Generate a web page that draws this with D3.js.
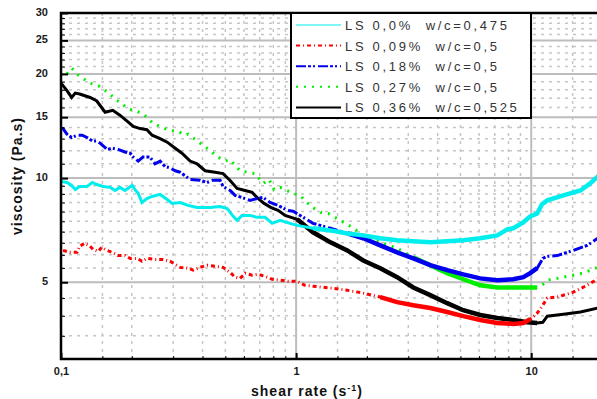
<!DOCTYPE html>
<html>
<head>
<meta charset="utf-8">
<script src="https://cdn.jsdelivr.net/npm/d3@7/dist/d3.min.js"></script>
<style>
    body { margin: 0; background: #fff; }
    svg { display: block; font-family: "Liberation Sans", Arial, sans-serif; }
</style>
</head>
<body>
<script>
// [shear rate (1/s), viscosity (Pa.s)]
const ls000 = [[0.1,9.78],[0.106,9.71],[0.111,9.52],[0.115,9.27],[0.12,9.46],[0.129,9.46],[0.136,9.71],[0.142,9.58],
    [0.151,9.46],[0.162,9.4],[0.17,9.21],[0.178,9.4],[0.187,9.21],[0.201,9.52],[0.206,9.27],[0.213,9.03],[0.221,8.5],
    [0.232,8.73],[0.244,8.85],[0.264,8.97],[0.283,8.67],[0.297,8.45],[0.321,8.5],[0.347,8.34],[0.379,8.22],[0.431,8.22],
    [0.475,8.28],[0.509,8.17],[0.54,7.75],[0.561,7.55],[0.589,7.8],[0.637,7.8],[0.682,7.7],[0.738,7.7],[0.791,7.4],
    [0.855,7.55],[0.942,7.4],[1.01,7.3],[1.18,7.16],[1.4,7.06],[1.65,6.92],[1.93,6.83],[2.28,6.7],[2.69,6.61],[3.15,6.57],
    [3.72,6.52],[4.39,6.57],[5.14,6.61],[6.07,6.7],[7.17,6.83],[7.91,7.11],[8.38,7.16],[9.25,7.45],[9.9,7.75],[10.6,7.9],
    [11.1,8.39],[11.7,8.62],[13.7,8.91],[16.2,9.21],[17.8,9.65],[19.5,10.2]];
const ls009 = [[0.102,6.18],[0.109,6.1],[0.117,6.1],[0.12,6.35],[0.126,6.48],[0.133,6.35],[0.137,6.22],[0.144,6.14],
    [0.149,6.31],[0.157,6.18],[0.165,6.1],[0.175,5.97],[0.187,5.97],[0.197,5.86],[0.211,5.86],[0.221,5.75],[0.232,5.86],
    [0.251,5.82],[0.272,5.82],[0.291,5.75],[0.321,5.52],[0.347,5.49],[0.365,5.42],[0.39,5.52],[0.418,5.6],[0.452,5.56],
    [0.489,5.52],[0.524,5.34],[0.55,5.17],[0.578,5.13],[0.607,5.31],[0.65,5.24],[0.689,5.27],[0.738,5.2],[0.791,5.1],
    [0.855,5.07],[0.925,5.03],[1.01,5.03],[1.09,4.9],[1.18,4.87],[1.4,4.81],[1.65,4.74],[1.93,4.65],[2.28,4.53],[2.69,4.38],
    [3.15,4.29],[3.72,4.21],[4.39,4.1],[5.14,3.99],[6.07,3.89],[7.17,3.81],[8.38,3.79],[9.25,3.81],[9.9,3.91],[10.6,4.07],
    [11.2,4.29],[11.7,4.5],[12.9,4.53],[15.1,4.68],[17.3,4.9],[19.5,5.15]];
const ls018 = [[0.1,13.9],[0.102,13.9],[0.106,13.4],[0.111,13.1],[0.117,13.3],[0.123,13.3],[0.129,13.1],[0.136,12.8],
    [0.142,12.8],[0.147,12.6],[0.157,12.1],[0.166,12.2],[0.175,12.1],[0.187,11.9],[0.197,11.8],[0.203,11.5],[0.213,11.2],
    [0.223,11.5],[0.239,11.5],[0.251,11.0],[0.264,11.2],[0.277,10.8],[0.291,10.7],[0.306,10.5],[0.321,10.4],[0.354,9.91],
    [0.39,9.86],[0.418,9.71],[0.443,9.86],[0.475,9.86],[0.489,9.46],[0.524,9.21],[0.55,8.91],[0.589,8.79],[0.637,8.62],
    [0.682,8.73],[0.724,8.79],[0.775,8.5],[0.838,8.34],[0.916,8.07],[0.971,8.02],[1.04,7.8],[1.18,7.4],[1.4,7.16],
    [1.65,6.92],[1.93,6.7],[2.28,6.39],[2.69,6.1],[3.15,5.86],[3.72,5.6],[4.39,5.42],[5.14,5.27],[6.07,5.13],[7.17,5.07],
    [8.38,5.1],[9.25,5.17],[9.9,5.31],[10.6,5.49],[11.2,5.86],[11.7,5.94],[12.9,5.97],[15.1,6.18],[17.3,6.39],[19.5,6.75]];
const ls027 = [[0.106,20.0],[0.111,20.8],[0.118,19.9],[0.123,19.5],[0.133,18.8],[0.144,18.5],[0.16,17.6],[0.17,16.9],
    [0.182,16.4],[0.191,15.9],[0.221,15.4],[0.234,14.9],[0.246,14.4],[0.291,13.7],[0.312,13.7],[0.337,13.3],[0.347,13.4],
    [0.398,12.5],[0.418,12.2],[0.466,11.5],[0.499,11.2],[0.524,11.3],[0.578,10.5],[0.619,10.4],[0.669,10.3],[0.724,9.65],
    [0.767,9.91],[0.806,9.27],[0.855,9.4],[0.971,9.03],[1.04,8.91],[1.11,8.5],[1.18,8.22],[1.27,7.96],[1.37,7.9],
    [1.54,7.55],[1.73,7.21],[1.93,6.83],[2.28,6.52],[2.69,6.27],[3.15,5.9],[3.72,5.6],[4.39,5.31],[5.14,5.1],[6.07,4.9],
    [7.17,4.83],[8.38,4.83],[9.62,4.83],[10.6,4.83],[11.2,4.93],[11.7,5.07],[12.9,5.13],[15.1,5.24],[16.6,5.31],[19.5,5.55]];
const ls036 = [[0.1,18.8],[0.102,18.5],[0.106,17.9],[0.111,17.1],[0.115,17.6],[0.12,17.5],[0.133,17.1],[0.142,16.7],
    [0.154,15.5],[0.166,15.7],[0.178,15.2],[0.191,14.6],[0.203,14.1],[0.217,13.9],[0.232,13.8],[0.244,13.3],[0.264,13.0],
    [0.283,12.7],[0.306,12.2],[0.327,11.8],[0.354,11.2],[0.379,11.0],[0.41,10.5],[0.452,10.4],[0.489,10.3],[0.524,9.84],
    [0.561,9.33],[0.607,9.21],[0.65,9.09],[0.689,8.73],[0.731,8.45],[0.783,8.22],[0.838,8.07],[0.898,7.8],[1.01,7.6],
    [1.18,6.97],[1.4,6.52],[1.65,6.18],[1.93,5.78],[2.28,5.49],[2.69,5.17],[3.15,4.83],[3.72,4.59],[4.39,4.35],[5.14,4.15],
    [6.07,4.02],[7.17,3.94],[8.38,3.89],[9.62,3.83],[10.6,3.81],[11.2,3.83],[11.7,3.99],[13.7,4.04],[16.2,4.1],[19.5,4.22]];

const seriesLabels = ["LS 0,0%  w/c=0,475", "LS 0,09%  w/c=0,5", "LS 0,18%  w/c=0,5", "LS 0,27%  w/c=0,5", "LS 0,36%  w/c=0,525"];
const xTickValues = [0.1, 1, 10];
const xTickLabels = ["0,1", "1", "10"];
const yTickValues = [5, 10, 15, 20, 25, 30];
const yTickLabels = ["5", "10", "15", "20", "25", "30"];

const width = 597;
const height = 399;
const plot = {left: 61, right: 602, top: 13, bottom: 359};

const series = [
    {data: ls036, color: "#000000", dash: null, solid: [0.9, 10.6]},
    {data: ls027, color: "#00ee00", dash: "2,6", solid: [2.8, 10.6]},
    {data: ls018, color: "#0000ee", dash: "10,2,3,2,2,3", solid: [1.5, 11]},
    {data: ls009, color: "#ff0000", dash: "4,3,1,3", solid: [2.1, 10.4]},
    {data: ls000, color: "#00eeee", dash: null, solid: [1.1, 20]}
];
const legendStyles = [
    {color: "#00eeee", dash: null, width: 1},
    {color: "#ff0000", dash: "4,3,1,3", width: 2},
    {color: "#0000ee", dash: "10,2,3,2,2,3", width: 2},
    {color: "#00ee00", dash: "2,6", width: 2},
    {color: "#000000", dash: null, width: 2}
];

const x = d3.scaleLog().domain([0.1, 20]).range([plot.left, plot.right]);
const y = d3.scaleLog().domain([3, 30]).range([plot.bottom, plot.top]);

const xMinor = [];
[0.1, 1, 10].forEach(d => [1.5, 2, 3, 4, 5, 6, 7, 8, 9].forEach(m => {
    const v = +(d * m).toFixed(3);
    if (v < 20) xMinor.push(v);
}));
const yMinor = d3.range(3.5, 10, 0.5).concat(d3.range(11, 30, 1)).filter(v => !yTickValues.includes(v));

const svg = d3.select("body").append("svg")
    .attr("width", width)
    .attr("height", height);

svg.append("clipPath").attr("id", "plot-clip")
    .append("rect")
    .attr("x", plot.left).attr("y", plot.top)
    .attr("width", plot.right - plot.left).attr("height", plot.bottom - plot.top);

// grid
const grid = svg.append("g").attr("clip-path", "url(#plot-clip)");
grid.selectAll("line.xminor").data(xMinor).join("line")
    .attr("x1", d => x(d)).attr("x2", d => x(d))
    .attr("y1", plot.top).attr("y2", plot.bottom)
    .attr("stroke", "#c6c6c6").attr("stroke-width", 1.5).attr("stroke-dasharray", "3,5");
grid.selectAll("line.yminor").data(yMinor).join("line")
    .attr("x1", plot.left).attr("x2", plot.right)
    .attr("y1", d => y(d)).attr("y2", d => y(d))
    .attr("stroke", "#c6c6c6").attr("stroke-width", 1.5).attr("stroke-dasharray", "3,5");
grid.selectAll("line.xmajor").data([1, 10]).join("line")
    .attr("x1", d => x(d)).attr("x2", d => x(d))
    .attr("y1", plot.top).attr("y2", plot.bottom)
    .attr("stroke", "#bdbdbd").attr("stroke-width", 2);
grid.selectAll("line.ymajor").data([5, 10, 15, 20, 25]).join("line")
    .attr("x1", plot.left).attr("x2", plot.right)
    .attr("y1", d => y(d)).attr("y2", d => y(d))
    .attr("stroke", "#bdbdbd").attr("stroke-width", 2);

// data: thin styled line, thicker solid band where the points are dense
const line = d3.line().x(d => x(d[0])).y(d => y(d[1]));
const curves = svg.append("g").attr("clip-path", "url(#plot-clip)").attr("fill", "none");
series.forEach(s => {
    curves.append("path")
        .attr("d", line(s.data))
        .attr("stroke", s.color)
        .attr("stroke-width", 3)
        .attr("stroke-dasharray", s.dash);
    curves.append("path")
        .attr("d", line(s.data.filter(d => d[0] >= s.solid[0] && d[0] <= s.solid[1])))
        .attr("stroke", s.color)
        .attr("stroke-width", 4.5);
});

// ticks
const styleAxis = g => {
    g.select(".domain").remove();
    g.selectAll("line").attr("stroke", "#000");
    g.selectAll("text")
        .attr("font-family", "'Liberation Sans', Arial, sans-serif")
        .attr("font-size", 11)
        .attr("font-weight", "bold")
        .attr("fill", "#1a1a1a");
};
svg.append("g").attr("transform", `translate(${plot.left},0)`)
    .call(d3.axisLeft(y).tickValues(yMinor).tickSize(-4).tickFormat(""))
    .call(styleAxis);
svg.append("g").attr("transform", `translate(${plot.left},0)`)
    .call(d3.axisLeft(y).tickValues(yTickValues).tickSize(-7).tickPadding(13).tickFormat((d, i) => yTickLabels[i]))
    .call(styleAxis)
    .call(g => g.selectAll("line").attr("stroke-width", 2))
    .call(g => g.selectAll("text").attr("dy", "0.2em"));
svg.append("g").attr("transform", `translate(0,${plot.bottom})`)
    .call(d3.axisBottom(x).tickValues(xMinor).tickSize(-3).tickFormat(""))
    .call(styleAxis);
svg.append("g").attr("transform", `translate(0,${plot.bottom})`)
    .call(d3.axisBottom(x).tickValues(xTickValues).tickSize(-6).tickPadding(8).tickFormat((d, i) => xTickLabels[i]))
    .call(styleAxis)
    .call(g => g.selectAll("line").attr("stroke-width", 2));

// frame
svg.append("path")
    .attr("d", `M${width + 5},${plot.top}H${plot.left}V${plot.bottom}H${width + 5}`)
    .attr("fill", "none")
    .attr("stroke", "#000")
    .attr("stroke-width", 2.5);

// legend
const legend = svg.append("g");
legend.append("rect")
    .attr("x", 291).attr("y", plot.top)
    .attr("width", 240).attr("height", 105)
    .attr("fill", "#fff")
    .attr("stroke", "#000")
    .attr("stroke-width", 2);
seriesLabels.forEach((label, i) => {
    const ly = 25 + i * 20.6;
    legend.append("line")
        .attr("x1", 296).attr("x2", 341)
        .attr("y1", ly).attr("y2", ly)
        .attr("stroke", legendStyles[i].color)
        .attr("stroke-width", legendStyles[i].width)
        .attr("stroke-dasharray", legendStyles[i].dash);
    legend.append("text")
        .attr("x", 345).attr("y", ly + 5)
        .attr("font-size", 13)
        .attr("fill", "#333")
        .style("letter-spacing", "2.7px")
        .style("white-space", "pre")
        .text(label);
});

// axis titles
svg.append("text")
    .attr("transform", "translate(22,176) rotate(-90)")
    .attr("text-anchor", "middle")
    .attr("font-size", 14)
    .attr("font-weight", "bold")
    .style("letter-spacing", "1px")
    .attr("fill", "#111")
    .text("viscosity (Pa.s)");
const xTitle = svg.append("text")
    .attr("x", 307).attr("y", 396)
    .attr("text-anchor", "middle")
    .attr("font-size", 14)
    .attr("font-weight", "bold")
    .style("letter-spacing", "1px")
    .attr("fill", "#111");
xTitle.append("tspan").text("shear rate (s");
xTitle.append("tspan").attr("dy", -5).attr("font-size", 9).text("-1");
xTitle.append("tspan").attr("dy", 5).text(")");
</script>
</body>
</html>
